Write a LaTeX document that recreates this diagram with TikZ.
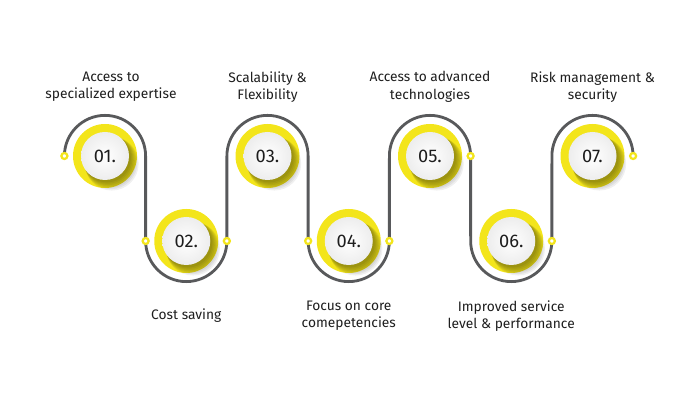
\documentclass[tikz,border=0pt]{standalone}
\usepackage{fontspec}
\setmainfont{Fira Sans}
\usepackage{tikz}
\usetikzlibrary{positioning,calc}

\definecolor{trackgray}{HTML}{58595B}
\definecolor{ringyellow}{HTML}{F3E51B}
\definecolor{inkdark}{HTML}{1E1E1E}

\begin{document}
\begin{tikzpicture}[
    node distance=2.03125cm,
    ring/.style={circle, fill=ringyellow, minimum size=1.6cm, inner sep=0pt, outer sep=0pt},
    disc/.style={circle, minimum size=1.2cm, inner sep=0pt, inner color=white, outer color=black!7,
        font=\fontsize{13}{13}\selectfont, text=inkdark},
    haze/.style={fill=black, opacity=0.06},
    caption/.style={align=center, font=\fontsize{9.8}{12.2}\selectfont, text=inkdark},
    track/.style={draw=trackgray, line width=2pt},
    dot/.style={circle, draw=ringyellow, fill=white, line width=1.6pt, minimum size=0.15cm, inner sep=0pt}
]
    \useasboundingbox (0,0) rectangle (17.5,10);
    \def\tr{1.015}

    % yellow rings along the meander
    \node[ring] (r1) at (2.625,6.1) {};
    \node[ring, right of=r1, yshift=-2.125cm] (r2) {};
    \node[ring, right of=r2, yshift=2.125cm] (r3) {};
    \node[ring, right of=r3, yshift=-2.125cm] (r4) {};
    \node[ring, right of=r4, yshift=2.125cm] (r5) {};
    \node[ring, right of=r5, yshift=-2.125cm] (r6) {};
    \node[ring, right of=r6, yshift=2.125cm] (r7) {};

    \foreach \i in {1,...,7} {
        \coordinate (l\i) at ($(r\i)+(-\tr,0)$);
        \coordinate (e\i) at ($(r\i)+(\tr,0)$);
        % soft shadow under each disc
        \foreach \k in {0,...,6}
            \fill[haze] ($(r\i)+(0.05+0.02*\k,-0.06-0.022*\k)$) circle ({0.6+0.012*\k});
    }

    % the winding line
    \draw[track] (l1) arc[start angle=180, end angle=0, radius=\tr]
        -- (l2) arc[start angle=180, end angle=360, radius=\tr]
        -- (l3) arc[start angle=180, end angle=0, radius=\tr]
        -- (l4) arc[start angle=180, end angle=360, radius=\tr]
        -- (l5) arc[start angle=180, end angle=0, radius=\tr]
        -- (l6) arc[start angle=180, end angle=360, radius=\tr]
        -- (l7) arc[start angle=180, end angle=0, radius=\tr];

    % white discs with numbers
    \node[disc] (n1) at (r1) {01.};
    \node[disc] (n2) at (r2) {02.};
    \node[disc] (n3) at (r3) {03.};
    \node[disc] (n4) at (r4) {04.};
    \node[disc] (n5) at (r5) {05.};
    \node[disc] (n6) at (r6) {06.};
    \node[disc] (n7) at (r7) {07.};

    % end dots
    \node[dot] (d1) at (l1) {};
    \node[dot] (d2) at (l2) {};
    \node[dot] (d3) at (e2) {};
    \node[dot] (d4) at (l4) {};
    \node[dot] (d5) at (e4) {};
    \node[dot] (d6) at (e5) {};
    \node[dot] (d7) at (e6) {};
    \node[dot] (d8) at (e7) {};

    % captions
    \node[caption, above of=r1, yshift=-0.3cm, xshift=0.15cm] (t1) {Access to\\specialized expertise};
    \node[caption, below of=r2, yshift=0.156cm] (t2) {Cost saving};
    \node[caption, above of=r3, yshift=-0.3cm] (t3) {Scalability \&\\Flexibility};
    \node[caption, below of=r4, yshift=0.156cm] (t4) {Focus on core\\comepetencies};
    \node[caption, above of=r5, yshift=-0.3cm] (t5) {Access to advanced\\technologies};
    \node[caption, below of=r6, yshift=0.156cm] (t6) {Improved service\\level \& performance};
    \node[caption, above of=r7, yshift=-0.3cm] (t7) {Risk management \&\\security};
\end{tikzpicture}
\end{document}
